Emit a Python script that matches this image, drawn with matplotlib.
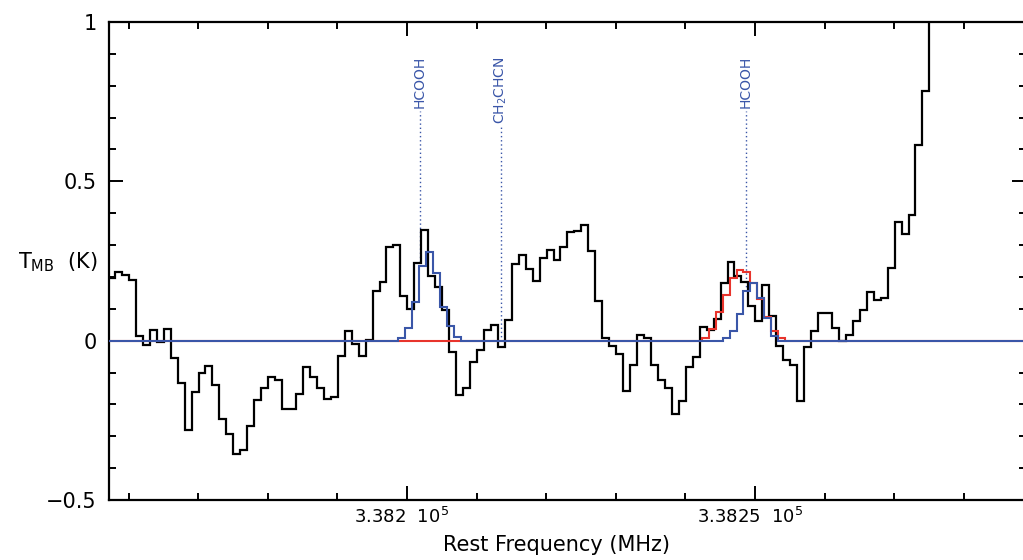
import numpy as np
import matplotlib
matplotlib.use('Agg')
import matplotlib.pyplot as plt
from matplotlib.ticker import MultipleLocator, FixedLocator, FuncFormatter
from matplotlib.transforms import ScaledTranslation

# observed spectrum (1 MHz channels, first channel low edge)
freq_start = 338157.05
chan_width = 1.0
tmb = [0.198, 0.217, 0.205, 0.192, 0.016, -0.013, 0.035, -0.005, 0.038, -0.054,
       -0.133, -0.279, -0.162, -0.101, -0.080, -0.140, -0.246, -0.293, -0.356, -0.344,
       -0.269, -0.185, -0.149, -0.115, -0.122, -0.214, -0.214, -0.167, -0.084, -0.114,
       -0.149, -0.183, -0.178, -0.049, 0.029, -0.010, -0.049, 0.001, 0.155, 0.183,
       0.293, 0.301, 0.141, 0.099, 0.244, 0.348, 0.204, 0.168, 0.097, -0.034,
       -0.169, -0.149, -0.068, -0.028, 0.035, 0.050, -0.020, 0.066, 0.242, 0.268,
       0.225, 0.186, 0.261, 0.286, 0.252, 0.293, 0.340, 0.345, 0.364, 0.280,
       0.126, 0.010, -0.018, -0.042, -0.159, -0.075, 0.019, 0.008, -0.075, -0.122,
       -0.149, -0.229, -0.190, -0.084, -0.051, 0.043, 0.035, 0.068, 0.181, 0.248,
       0.204, 0.183, 0.108, 0.063, 0.174, 0.079, -0.016, -0.060, -0.075, -0.190,
       -0.020, 0.029, 0.087, 0.087, 0.040, -0.002, 0.019, 0.061, 0.097, 0.152,
       0.129, 0.134, 0.228, 0.371, 0.336, 0.395, 0.615, 0.782, 1.15, 1.42,
       1.63, 1.85, 2.02, 2.10, 2.21, 2.18, 2.26, 2.31, 2.29, 2.35, 2.40, 2.38]

# LTE model, first HCOOH line (blue only)
model1_start = 338198.75
blue_1 = [0.008, 0.040, 0.123, 0.233, 0.277, 0.214, 0.105, 0.045, 0.012]
red_1 = [0, 0, 0, 0, 0, 0, 0, 0, 0]

# LTE model, second HCOOH line
model2_start = 338242.34
blue_2 = [0, 0, 0, 0.008, 0.029, 0.084, 0.155, 0.181, 0.134, 0.071, 0.016, 0]
red_2 = [0.010, 0.036, 0.089, 0.145, 0.197, 0.222, 0.216, 0.181, 0.131, 0.074, 0.029, 0.010]

# line identifications
line_freqs = [338201.87, 338213.5, 338248.66]
line_names = ['HCOOH', r'CH$_2$CHCN', 'HCOOH']

xmin, xmax = 338157.18, 338288.94
ymin, ymax = -0.5, 1.0

blue = '#3a56a8'
red = '#e8342c'


def model_steps(vals1, vals2):
    e1 = model1_start + chan_width * np.arange(len(vals1) + 1)
    e2 = model2_start + chan_width * np.arange(len(vals2) + 1)
    edges = np.concatenate([[xmin], e1, e2, [xmax]])
    vals = np.concatenate([[0.0], vals1, [0.0], vals2, [0.0]])
    return edges, vals


fig = plt.figure(figsize=(10.23, 5.6), dpi=100)
ax = fig.add_axes([0.1065, 0.107, 0.8965, 0.8537])

edges = freq_start + chan_width * np.arange(len(tmb) + 1)
ax.stairs(tmb, edges, baseline=None, color='black', lw=1.6, zorder=2)

red_edges, red_vals = model_steps(red_1, red_2)
ax.stairs(red_vals, red_edges, baseline=None, color=red, lw=1.5, zorder=3)
blue_edges, blue_vals = model_steps(blue_1, blue_2)
ax.stairs(blue_vals, blue_edges, baseline=None, color=blue, lw=1.5, zorder=4)

ax.set_xlim(xmin, xmax)
ax.set_ylim(ymin, ymax)

ax.xaxis.set_major_locator(FixedLocator([338200, 338250]))
ax.xaxis.set_minor_locator(MultipleLocator(10))
ax.xaxis.set_major_formatter(FuncFormatter(
    lambda v, pos: '{:g}  $10^5$'.format(round(v / 1e5, 6))))
ax.yaxis.set_major_locator(MultipleLocator(0.5))
ax.yaxis.set_minor_locator(MultipleLocator(0.1))
ax.yaxis.set_major_formatter(FuncFormatter(lambda v, pos: '{:g}'.format(v).replace('-', '\u2212')))

ax.tick_params(which='both', direction='in', top=True, right=True, width=1.4)
ax.tick_params(which='major', length=10)
ax.tick_params(which='minor', length=5)
ax.tick_params(axis='x', labelsize=13, pad=5)
ax.tick_params(axis='y', labelsize=15, pad=9)
for sp in ax.spines.values():
    sp.set_linewidth(1.6)

# nudge the frequency labels a little to the left
shift = ScaledTranslation(-5 / 100, 0, fig.dpi_scale_trans)
for lab in ax.get_xticklabels():
    lab.set_transform(lab.get_transform() + shift)

ax.set_xlabel('Rest Frequency (MHz)', fontsize=15, labelpad=0)
ax.xaxis.set_label_coords(0.4875, -0.074)
fig.text(58 / 1023, 1 - 262 / 560, r'T$_{\rm MB}$  (K)', fontsize=15,
         ha='center', va='center')

# line labels with dotted markers down to the model
labels = []
for f, name in zip(line_freqs, line_names):
    t = ax.text(f, 0.893, name, rotation=90, ha='center', va='top',
                color=blue, fontsize=10)
    labels.append(t)

fig.canvas.draw()
inv = ax.transData.inverted()
for f, t in zip(line_freqs, labels):
    bb = t.get_window_extent()
    y_top = inv.transform((0, bb.y0 - 3))[1]
    k = np.searchsorted(blue_edges, f) - 1
    y_bot = blue_vals[k]
    ax.plot([f, f], [y_bot, y_top], color=blue, lw=1.0, ls=(0, (1, 2)), zorder=1)

plt.savefig('out.png', dpi=100)
